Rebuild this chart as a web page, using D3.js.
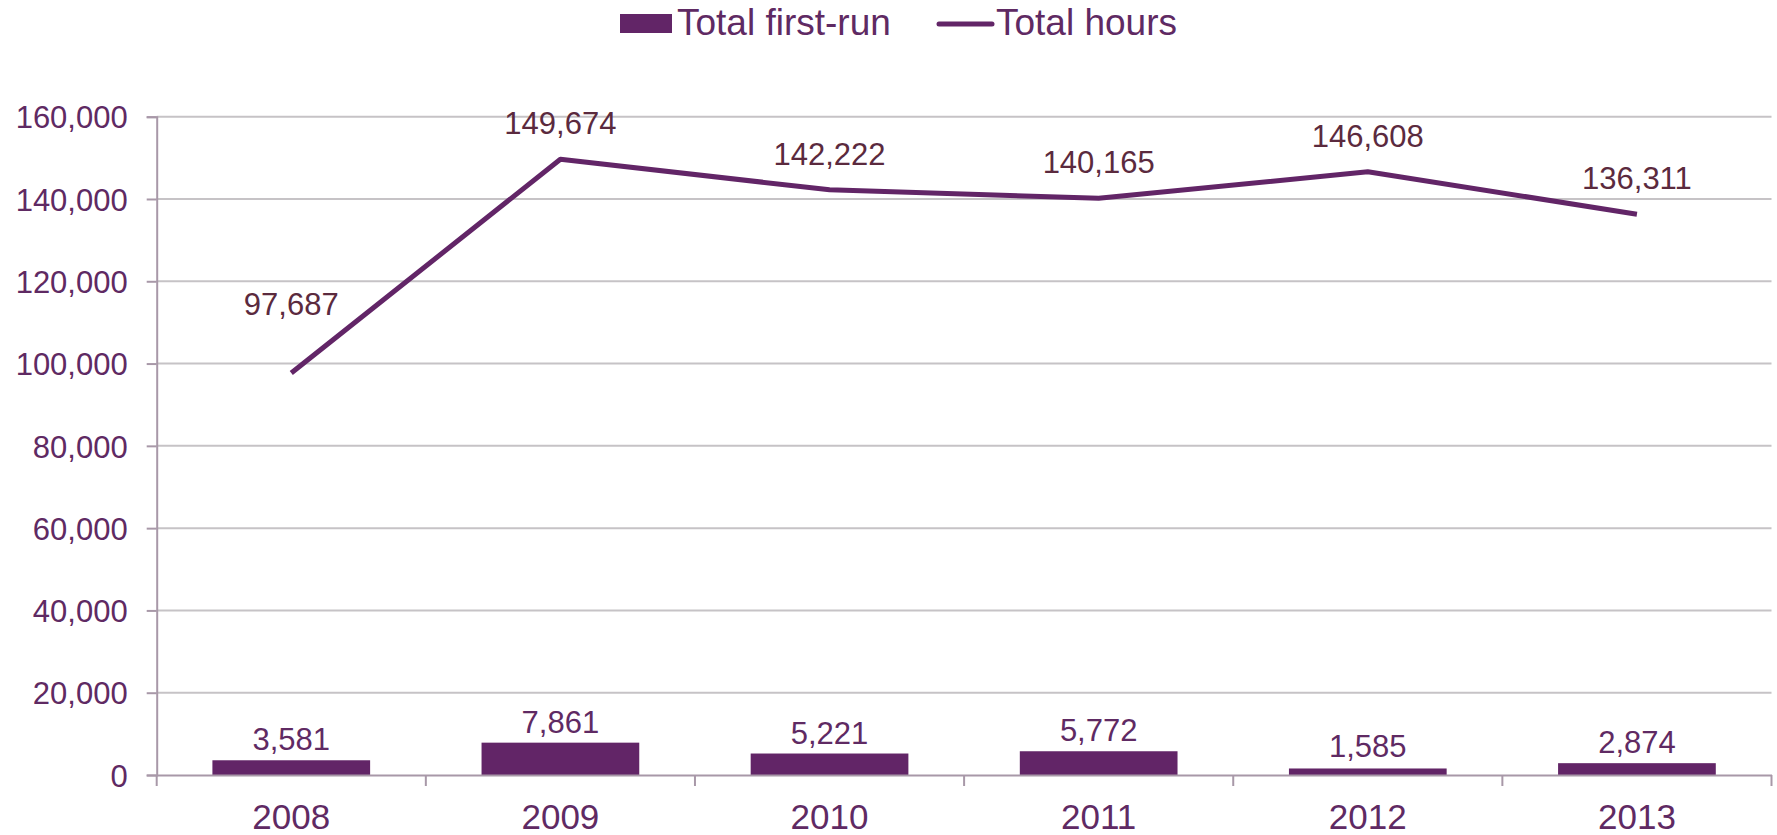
<!DOCTYPE html>
<html>
<head>
<meta charset="utf-8">
<script src="https://cdn.jsdelivr.net/npm/d3@7"></script>
<style>
  html, body { margin: 0; padding: 0; background: #fff; }
  svg { display: block; font-family: "Liberation Sans", Arial, sans-serif; }
</style>
</head>
<body>
<svg id="chart" width="1777" height="835"></svg>
<script>
// Years shown on the category axis
const years = ["2008", "2009", "2010", "2011", "2012", "2013"];
// Total first-run hours per year (bars)
const firstRun = [3581, 7861, 5221, 5772, 1585, 2874];
// Total hours per year (line)
const totalHours = [97687, 149674, 142222, 140165, 146608, 136311];
// Value-axis ticks
const yTicks = [0, 20000, 40000, 60000, 80000, 100000, 120000, 140000, 160000];
// Legend entries
const seriesNames = ["Total first-run", "Total hours"];

const purple = "#622567";
const axisText = "#5f2a63";
const lineLabel = "#5b2a3e";
const gridColor = "#c6c3c6";
const axisColor = "#a898a8";

const svg = d3.select("#chart");
const plotLeft = 156.7, plotRight = 1771.5, plotTop = 116.7, plotBottom = 775;

const x = d3.scaleBand().domain(years).range([plotLeft, plotRight]).paddingInner(0.414).paddingOuter(0.207);
const xBand = d3.scaleBand().domain(years).range([plotLeft, plotRight]).padding(0);
const y = d3.scaleLinear().domain([0, 160000]).range([plotBottom, plotTop]);
const fmt = d3.format(",");

// Horizontal gridlines
svg.append("g")
  .selectAll("line")
  .data(yTicks.filter(d => d > 0))
  .join("line")
  .attr("x1", plotLeft).attr("x2", plotRight)
  .attr("y1", d => y(d)).attr("y2", d => y(d))
  .attr("stroke", gridColor).attr("stroke-width", 2);

// Value axis
const yAxis = svg.append("g")
  .attr("transform", `translate(${plotLeft},0)`)
  .call(d3.axisLeft(y).tickValues(yTicks).tickFormat(fmt).tickSize(10).tickPadding(19));
yAxis.select(".domain").attr("stroke", axisColor).attr("stroke-width", 2);
yAxis.selectAll(".tick line").attr("stroke", axisColor).attr("stroke-width", 2);
yAxis.selectAll(".tick text")
  .attr("fill", axisText)
  .attr("font-size", 31)
  .attr("font-family", "Liberation Sans, Arial, sans-serif")
  .attr("dy", "0.36em");

// Bars
svg.append("g")
  .selectAll("rect")
  .data(firstRun)
  .join("rect")
  .attr("x", (d, i) => x(years[i]))
  .attr("width", x.bandwidth())
  .attr("y", d => y(d))
  .attr("height", d => y(0) - y(d))
  .attr("fill", purple);

// Category axis
const xAxis = svg.append("g")
  .attr("transform", `translate(0,${plotBottom})`)
  .call(d3.axisBottom(xBand).tickSize(0).tickPadding(0).tickFormat(d => d));
xAxis.select(".domain").attr("stroke", axisColor).attr("stroke-width", 2);
xAxis.selectAll(".tick text")
  .attr("fill", axisText)
  .attr("font-size", 35)
  .attr("font-family", "Liberation Sans, Arial, sans-serif")
  .attr("dy", 0)
  .attr("y", 54);
// Category boundary tick marks
xAxis.append("g")
  .selectAll("line")
  .data(years.map(d => xBand(d)).concat([plotRight]))
  .join("line")
  .attr("x1", d => d).attr("x2", d => d)
  .attr("y1", 0).attr("y2", 11)
  .attr("stroke", axisColor).attr("stroke-width", 2);

// Bar value labels
svg.append("g")
  .selectAll("text")
  .data(firstRun)
  .join("text")
  .attr("x", (d, i) => x(years[i]) + x.bandwidth() / 2)
  .attr("y", d => Math.min(y(d) - 10, y(0) - 18))
  .attr("text-anchor", "middle")
  .attr("fill", axisText)
  .attr("font-size", 31)
  .text(d => fmt(d));

// Total hours line
const line = d3.line()
  .x((d, i) => xBand(years[i]) + xBand.bandwidth() / 2)
  .y(d => y(d));
svg.append("path")
  .datum(totalHours)
  .attr("d", line)
  .attr("fill", "none")
  .attr("stroke", purple)
  .attr("stroke-width", 5)
  .attr("stroke-linejoin", "round");

// Line value labels
svg.append("g")
  .selectAll("text")
  .data(totalHours)
  .join("text")
  .attr("x", (d, i) => xBand(years[i]) + xBand.bandwidth() / 2)
  .attr("y", (d, i) => y(d) - (i === 0 ? 58 : 25))
  .attr("text-anchor", "middle")
  .attr("fill", lineLabel)
  .attr("font-size", 31)
  .text(d => fmt(d));

// Legend
const legend = svg.append("g");
legend.append("rect")
  .attr("x", 620).attr("y", 14).attr("width", 52).attr("height", 19)
  .attr("fill", purple);
legend.append("text")
  .attr("x", 677).attr("y", 35)
  .attr("fill", axisText).attr("font-size", 37)
  .text(seriesNames[0]);
legend.append("line")
  .attr("x1", 939).attr("x2", 992).attr("y1", 24).attr("y2", 24)
  .attr("stroke", purple).attr("stroke-width", 5).attr("stroke-linecap", "round");
legend.append("text")
  .attr("x", 996).attr("y", 35)
  .attr("fill", axisText).attr("font-size", 37)
  .text(seriesNames[1]);
</script>
</body>
</html>
